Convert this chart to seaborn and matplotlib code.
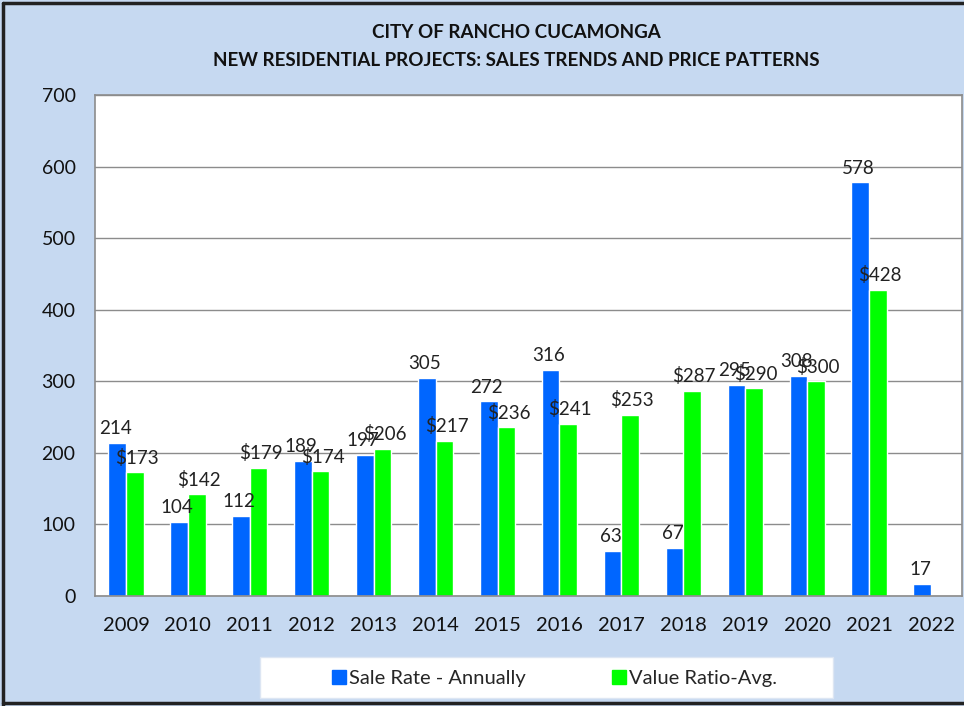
import numpy as np
import pandas as pd
import matplotlib
matplotlib.use("Agg")
import matplotlib.pyplot as plt
import seaborn as sns
from matplotlib.patches import Rectangle
from matplotlib.lines import Line2D

years = ["2009", "2010", "2011", "2012", "2013", "2014", "2015",
         "2016", "2017", "2018", "2019", "2020", "2021", "2022"]
sale_rate = [214, 104, 112, 189, 197, 305, 272, 316, 63, 67, 295, 308, 578, 17]
value_ratio = [173, 142, 179, 174, 206, 217, 236, 241, 253, 287, 290, 300, 428, np.nan]
series_names = ["Sale Rate - Annually", "Value Ratio-Avg."]
series_colors = {"Sale Rate - Annually": "#0066FF", "Value Ratio-Avg.": "#00FF00"}

df = pd.DataFrame({
    "year": years * 2,
    "value": sale_rate + value_ratio,
    "series": [series_names[0]] * len(years) + [series_names[1]] * len(years),
})

sns.set_style("white")
plt.rcParams["font.family"] = ["Lato", "DejaVu Sans"]

bg = "#C6D9F1"
fig = plt.figure(figsize=(9.64, 7.06), dpi=100, facecolor=bg)
ax = fig.add_axes([95 / 964, 1 - 596 / 706, 867 / 964, 501 / 706])

sns.barplot(data=df, x="year", y="value", hue="series", order=years,
            hue_order=series_names, palette=series_colors, width=0.57,
            saturation=1, errorbar=None, legend=False, ax=ax)

# value labels (blue nudged left, green nudged right, like the original)
for cont, prefix, dx in zip(ax.containers, ["", "$"], [-1.5, 1.5]):
    for rect, v in zip(cont.patches, cont.datavalues):
        if np.isnan(v):
            continue
        ax.annotate(f"{prefix}{int(v)}", (rect.get_x() + rect.get_width() / 2, v),
                    xytext=(dx, 4), textcoords="offset points", ha="center",
                    va="bottom", fontsize=13.5, color="#222222")

ax.set_ylim(0, 700)
ax.set_xlim(-0.5, len(years) - 0.5)
ax.set_yticks(range(0, 701, 100))
ax.yaxis.grid(True, color="#8c8c8c", linewidth=1)
ax.set_axisbelow(True)
ax.set_xlabel("")
ax.set_ylabel("")
ax.set_xticks(np.arange(-0.5, len(years), 1), minor=True)
ax.tick_params(axis="x", which="major", length=0, labelsize=14.5, pad=15, colors="#111111")
ax.tick_params(axis="x", which="minor", length=6, color="#8c8c8c", width=1)
ax.tick_params(axis="y", length=6, color="#8c8c8c", labelsize=14, pad=8, colors="#111111")
for s in ax.spines.values():
    s.set_color("#8c8c8c")
    s.set_linewidth(1.2)
ax.set_facecolor("white")

fig.text(516 / 964, 1 - 33 / 706, "CITY OF RANCHO CUCAMONGA", ha="center", va="center",
         fontsize=13.5, fontweight="bold", color="#111111")
fig.text(516 / 964, 1 - 61 / 706, "NEW RESIDENTIAL PROJECTS: SALES TRENDS AND PRICE PATTERNS",
         ha="center", va="center", fontsize=13.5, fontweight="bold", color="#111111")

# legend box
fig.patches.append(Rectangle((260 / 964, 1 - 698 / 706), 573 / 964, 41 / 706,
                             transform=fig.transFigure, facecolor="white",
                             edgecolor="#dde6f3", linewidth=1, zorder=1))
handles = [Line2D([], [], marker="s", linestyle="", markersize=10,
                  markerfacecolor=series_colors[n], markeredgecolor=series_colors[n])
           for n in series_names]
fig.legend(handles, series_names, loc="center", ncol=2, frameon=False,
           bbox_to_anchor=(554 / 964, 1 - 678 / 706), fontsize=14.5,
           handletextpad=0.1, columnspacing=4.2, handlelength=0.8)

# outer border
for xs, ys in [((0.003, 0.003), (0.0, 0.996)), ((0.003, 1.0), (0.996, 0.996)),
               ((0.003, 1.0), (0.004, 0.004))]:
    fig.add_artist(Line2D(xs, ys, transform=fig.transFigure, color="#222222", linewidth=2.5))

fig.savefig("out.png", dpi=100, facecolor=bg)
